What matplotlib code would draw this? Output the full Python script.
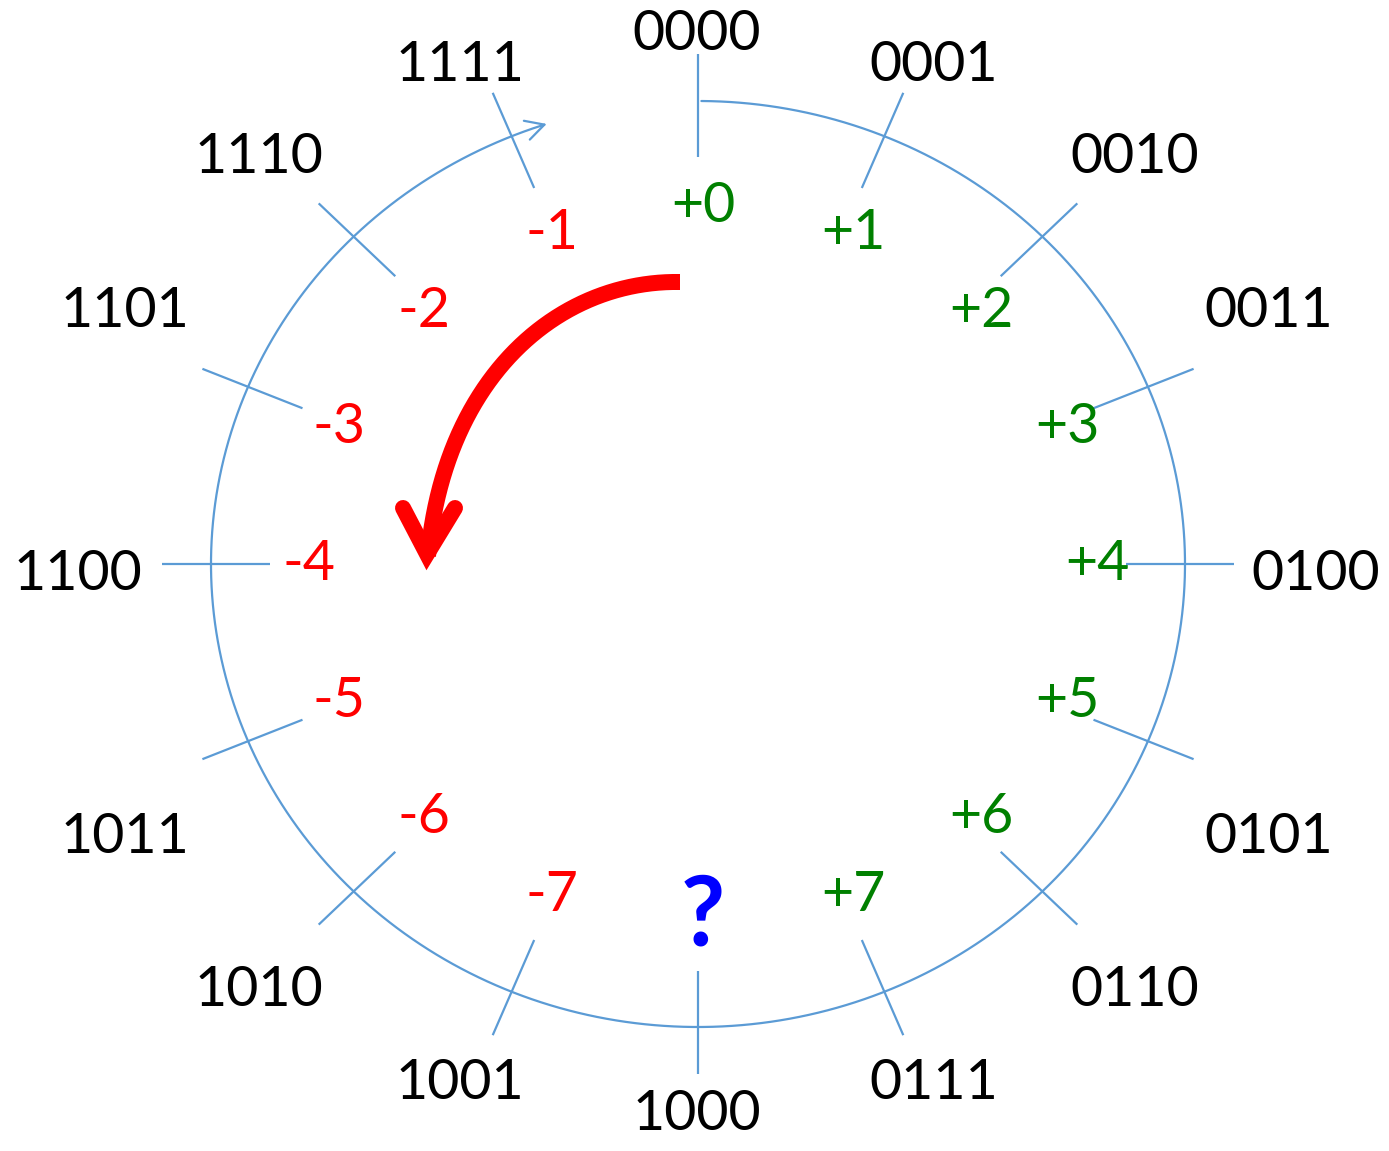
import numpy as np
import matplotlib
matplotlib.use("Agg")
import matplotlib.pyplot as plt
from matplotlib.patches import FancyArrowPatch
from matplotlib.path import Path

# ---------------- data ----------------
binary_codes = ["0000", "0001", "0010", "0011", "0100", "0101", "0110", "0111",
                "1000", "1001", "1010", "1011", "1100", "1101", "1110", "1111"]
signed_values = ["+0", "+1", "+2", "+3", "+4", "+5", "+6", "+7",
                 "?", "-7", "-6", "-5", "-4", "-3", "-2", "-1"]

# ---------------- style ----------------
BLUE_LINE = "#5B9BD5"
GREEN = "#008000"
RED = "#FF0000"
QBLUE = "#0000FF"
FONT = ["Lato", "DejaVu Sans"]

W, H = 1389, 1151
fig = plt.figure(figsize=(W / 100, H / 100), dpi=100)
ax = fig.add_axes([0, 0, 1, 1])
ax.set_xlim(0, W)
ax.set_ylim(H, 0)
ax.axis("off")

# circle geometry (pixel space, y down)
CX, CY = 698, 564
RA, RB = 487, 463
XS = RA / RB

n = len(binary_codes)
angles = np.radians(np.arange(n) * 360.0 / n)

# main wheel arc with open arrow head
t = np.radians(np.linspace(0.4, 360 - 18.1, 600))
arc = np.column_stack([CX + RA * np.sin(t), CY - RB * np.cos(t)])
wheel = FancyArrowPatch(path=Path(arc), arrowstyle="->,head_length=13.3,head_width=7.1",
                        color=BLUE_LINE, lw=1.6, shrinkA=0, shrinkB=0, mutation_scale=1)
ax.add_patch(wheel)

# radial ticks
r_in, r_out = 407, 510
for a in angles:
    xs = [CX + XS * r_in * np.sin(a), CX + XS * r_out * np.sin(a)]
    ys = [CY - r_in * np.cos(a), CY - r_out * np.cos(a)]
    ax.plot(xs, ys, color=BLUE_LINE, lw=1.6, solid_capstyle="butt")

# text helpers: place digits centred on their ink
fs_lab = 40
em_px = fs_lab * 100 / 72
half_digit = 0.358 * em_px

# outer binary labels
for code, a in zip(binary_codes, angles):
    c = np.cos(a)
    x = 697 + 619 * np.sin(a)
    y = 570 - 540 * np.sign(c) * np.abs(c) ** 0.75
    ax.text(x, y + half_digit, code, fontsize=fs_lab, family=FONT, color="black",
            ha="center", va="baseline")

# inner signed values
for val, a in zip(signed_values, angles):
    x = 703 + 394 * np.sin(a)
    y = 560 - 358 * np.cos(a)
    if val == "?":
        fs_q = 69.5
        ax.text(x, y + 0.365 * fs_q * 100 / 72 - 8, val, fontsize=fs_q, family=FONT,
                fontweight="bold", color=QBLUE, ha="center", va="baseline")
    else:
        col = GREEN if val.startswith("+") else RED
        ax.text(x, y + half_digit, val, fontsize=fs_lab, family=FONT, color=col,
                ha="center", va="baseline")

# thick red curved arrow
lw_red = 16 * 72 / 100
P = np.array([[680, 282], [560, 280], [445, 375], [428, 556]], dtype=float)
s = np.linspace(0, 1, 200)[:, None]
bez = ((1 - s) ** 3) * P[0] + 3 * ((1 - s) ** 2) * s * P[1] + 3 * (1 - s) * s ** 2 * P[2] + s ** 3 * P[3]
ax.plot(bez[:, 0], bez[:, 1], color=RED, lw=lw_red, solid_capstyle="butt")
head = np.array([[403, 508], [427, 554], [455, 508]], dtype=float)
ax.plot(head[:, 0], head[:, 1], color=RED, lw=lw_red, solid_capstyle="round",
        solid_joinstyle="miter")

fig.savefig("out.png", dpi=100)
